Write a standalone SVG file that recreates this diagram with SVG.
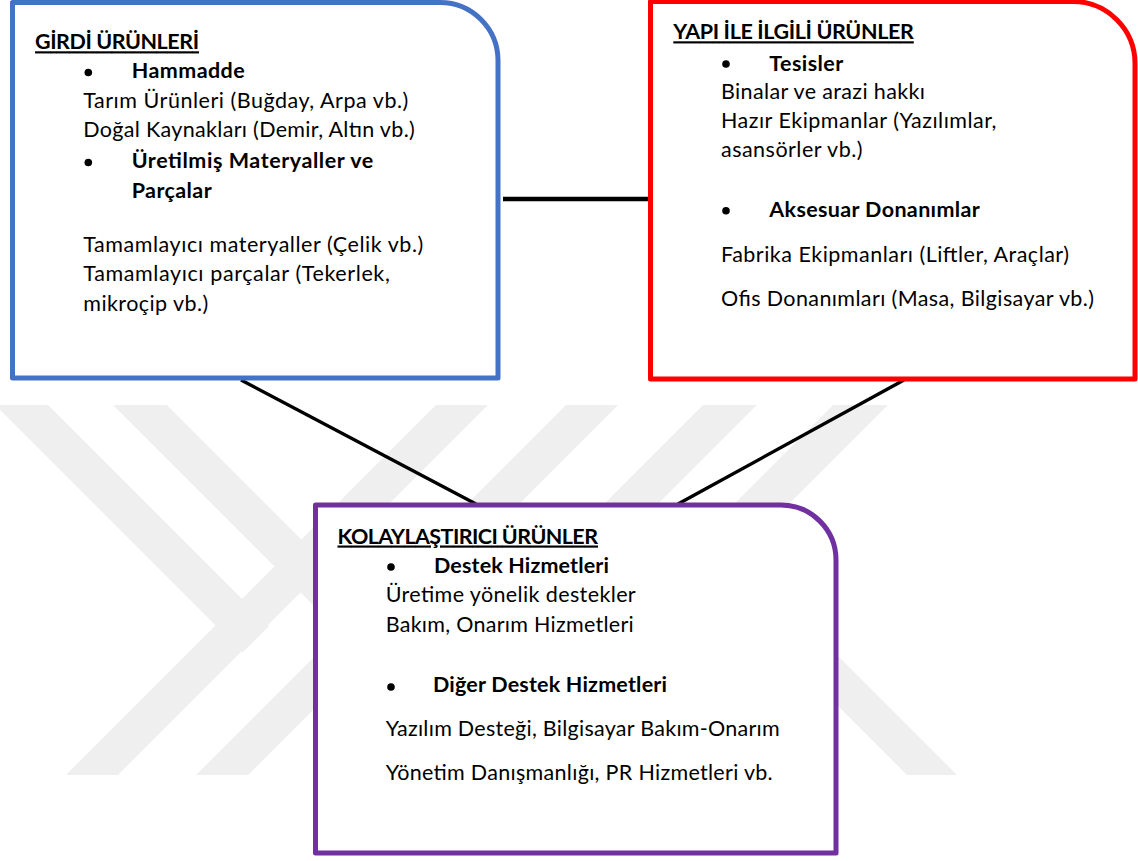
<svg xmlns="http://www.w3.org/2000/svg" width="1138" height="861" viewBox="0 0 1138 861">
  <style>
    .wm { fill: #efefef; }
    .box { fill: #ffffff; stroke-width: 5; stroke-linejoin: round; }
    .t { font-family: Lato, "Open Sans", "Liberation Sans", sans-serif; font-size: 21.5px; fill: #000000; }
    .b { font-weight: bold; }
    .h { font-weight: bold; text-decoration: underline; }
    .dot { fill: #000000; }
    .conn line { stroke: #000000; fill: none; stroke-linecap: butt; }
  </style>

  <rect width="1138" height="861" fill="#ffffff"/>

  <!-- pale background chevrons -->
  <g id="watermark" class="wm">
    <polygon points="-5,405 48,405 269,626 242.5,652.5"/>
    <polygon points="436,405 488,405 118,775 66,775"/>
    <polygon points="113,405 167,405 393,631 366,658"/>
    <polygon points="566,405 618,405 248,775 196,775"/>
    <polygon points="703,405 757,405 387,775 333,775"/>
    <polygon points="833,405 888,405 518,775 463,775"/>
    <polygon points="907,775 957,775 720,538 670,538"/>
  </g>

  <!-- connectors -->
  <g id="connectors" class="conn">
    <line x1="503" y1="199" x2="648" y2="199" stroke-width="4.5"/>
    <line x1="241" y1="380" x2="476" y2="504" stroke-width="3.4"/>
    <line x1="904" y1="380" x2="678" y2="504" stroke-width="3.4"/>
  </g>

  <!-- input products -->
  <g id="girdi-urunleri">
    <path class="box" stroke="#4472C4" d="M12.5,2.5 H440 A58,58 0 0 1 498,60.5 V378 H12.5 Z"/>
    <text class="t h" x="35" y="49.3" textLength="164">GİRDİ ÜRÜNLERİ</text>
    <circle class="dot" cx="88.3" cy="72.5" r="3.8"/>
    <text class="t b" x="131.7" y="78.3" textLength="113">Hammadde</text>
    <text class="t" x="83.3" y="108.3" textLength="325">Tarım Ürünleri (Buğday, Arpa vb.)</text>
    <text class="t" x="83.3" y="137.3" textLength="331.5">Doğal Kaynakları (Demir, Altın vb.)</text>
    <circle class="dot" cx="88.3" cy="162.5" r="3.8"/>
    <text class="t b" x="131.7" y="168.3" textLength="241.5">Üretilmiş Materyaller ve</text>
    <text class="t b" x="131.7" y="198.3" textLength="80">Parçalar</text>
    <text class="t" x="83.3" y="251.7" textLength="340">Tamamlayıcı materyaller (Çelik vb.)</text>
    <text class="t" x="83.3" y="281" textLength="306.5">Tamamlayıcı parçalar (Tekerlek,</text>
    <text class="t" x="83.3" y="310.7" textLength="125">mikroçip vb.)</text>
  </g>

  <!-- structure-related products -->
  <g id="yapi-urunleri">
    <path class="box" stroke="#FF0000" d="M650.5,1.5 H1073 A62,62 0 0 1 1135,63.5 V379 H650.5 Z"/>
    <text class="t h" x="673.3" y="39.3" textLength="240.5">YAPI İLE İLGİLİ ÜRÜNLER</text>
    <circle class="dot" cx="726" cy="64" r="3.8"/>
    <text class="t b" x="769.3" y="70.7" textLength="74">Tesisler</text>
    <text class="t" x="721" y="99.3" textLength="204">Binalar ve arazi hakkı</text>
    <text class="t" x="721" y="128.3" textLength="275.5">Hazır Ekipmanlar (Yazılımlar,</text>
    <text class="t" x="721" y="157.3" textLength="141.5">asansörler vb.)</text>
    <circle class="dot" cx="726" cy="210.7" r="3.8"/>
    <text class="t b" x="769.3" y="217.3" textLength="210.5">Aksesuar Donanımlar</text>
    <text class="t" x="721" y="261.7" textLength="348">Fabrika Ekipmanları (Liftler, Araçlar)</text>
    <text class="t" x="721" y="306" textLength="373">Ofis Donanımları (Masa, Bilgisayar vb.)</text>
  </g>

  <!-- facilitating products -->
  <g id="kolaylastirici-urunler">
    <path class="box" stroke="#7030A0" d="M315.5,505 H781 A55,55 0 0 1 836,560 V853 H315.5 Z"/>
    <text class="t h" x="337.5" y="543.5" textLength="260.5">KOLAYLAŞTIRICI ÜRÜNLER</text>
    <circle class="dot" cx="391" cy="567" r="3.8"/>
    <text class="t b" x="434" y="573" textLength="175">Destek Hizmetleri</text>
    <text class="t" x="385.7" y="602" textLength="250">Üretime yönelik destekler</text>
    <text class="t" x="385.7" y="632" textLength="248">Bakım, Onarım Hizmetleri</text>
    <circle class="dot" cx="391" cy="687" r="3.8"/>
    <text class="t b" x="433" y="692" textLength="234">Diğer Destek Hizmetleri</text>
    <text class="t" x="385.7" y="735.5" textLength="394">Yazılım Desteği, Bilgisayar Bakım-Onarım</text>
    <text class="t" x="385.7" y="780" textLength="387">Yönetim Danışmanlığı, PR Hizmetleri vb.</text>
  </g>
</svg>
